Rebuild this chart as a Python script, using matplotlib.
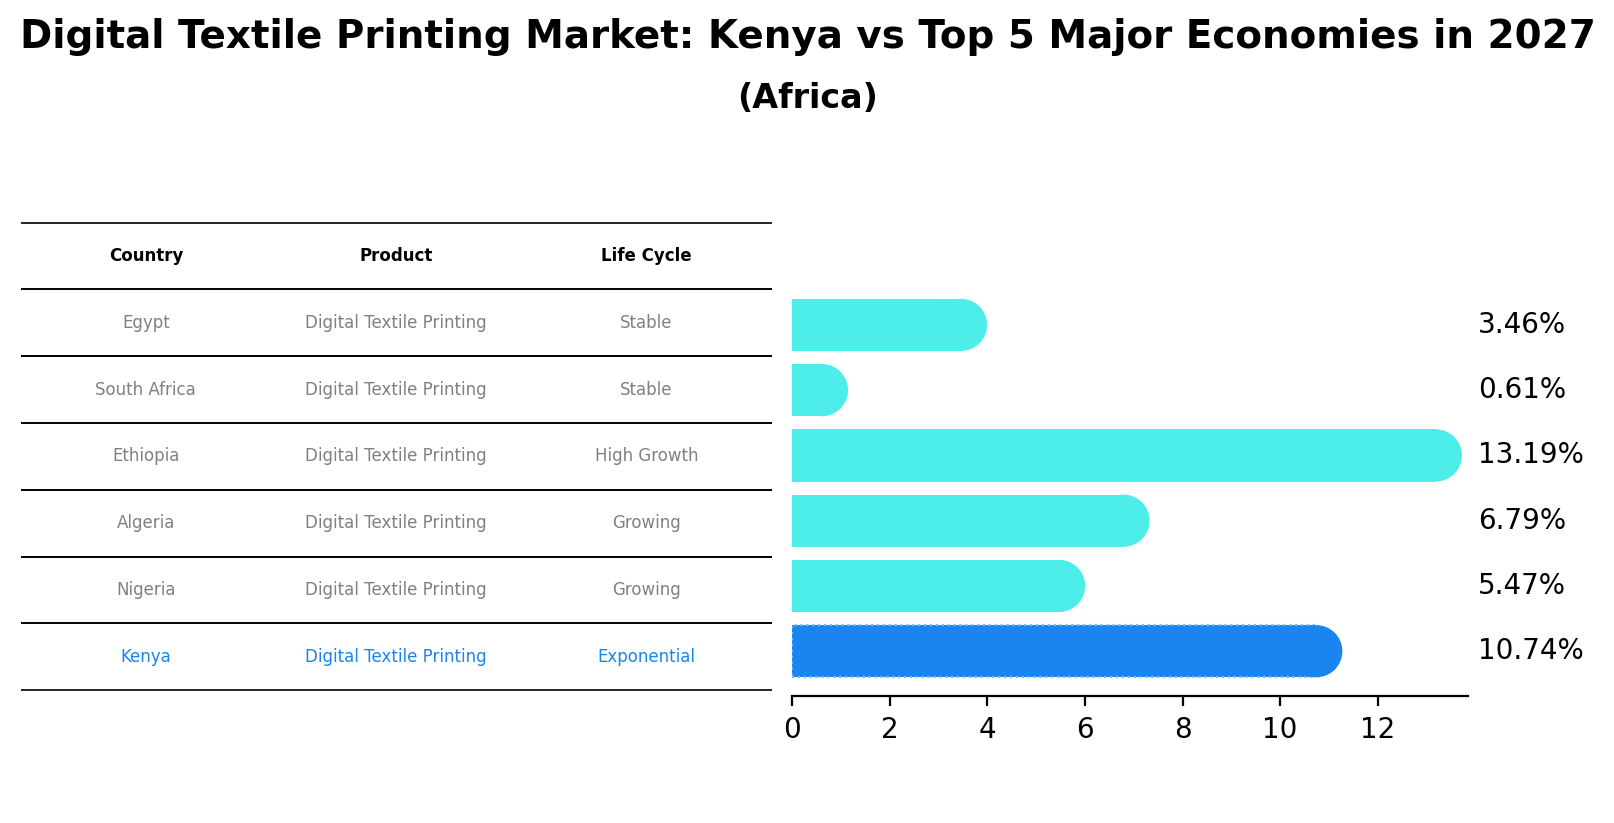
import matplotlib.pyplot as plt
from matplotlib.transforms import blended_transform_factory

# table rows, top to bottom
countries = ['Egypt', 'South Africa', 'Ethiopia', 'Algeria', 'Nigeria', 'Kenya']
products = ['Digital Textile Printing'] * 6
life_cycle = ['Stable', 'Stable', 'High Growth', 'Growing', 'Growing', 'Exponential']
growth = [3.46, 0.61, 13.19, 6.79, 5.47, 10.74]
col_labels = ['Country', 'Product', 'Life Cycle']

cyan = '#4DEEEA'
blue = '#1A85F0'

fig = plt.figure(figsize=(8.075, 4.115), dpi=200)
fig.text(0.5, 0.955, 'Digital Textile Printing Market: Kenya vs Top 5 Major Economies in 2027',
         ha='center', va='center', fontsize=14, fontweight='bold')
fig.text(0.5, 0.88, '(Africa)', ha='center', va='center', fontsize=12, fontweight='bold')

# table on the left
tax = fig.add_axes([0.0128, 0.1614, 0.465, 0.568])
tax.axis('off')
cells = [[c, p, l] for c, p, l in zip(countries, products, life_cycle)]
tbl = tax.table(cellText=cells, colLabels=col_labels, cellLoc='center',
                bbox=[0, 0, 1, 1], edges='horizontal')
tbl.auto_set_font_size(False)
for (r, c), cell in tbl.get_celld().items():
    cell.set_linewidth(0.6)
    cell.get_text().set_fontsize(6)
    if r == 0:
        cell.get_text().set_fontweight('bold')
    elif countries[r - 1] == 'Kenya':
        cell.get_text().set_color(blue)
    else:
        cell.get_text().set_color('grey')

# bars on the right
ax = fig.add_axes([0.4905, 0.154, 0.4185, 0.506])
n = len(countries)
ypos = list(range(n - 1, -1, -1))
colors = [blue if c == 'Kenya' else cyan for c in countries]
h = 0.8
for y, v, col, c in zip(ypos, growth, colors, countries):
    if c == 'Kenya':
        ax.barh(y, v, height=h, color=col, edgecolor='#7FB8F5', linestyle=':', linewidth=0.8, zorder=2)
    else:
        ax.barh(y, v, height=h, color=col, zorder=2)
ax.set_xlim(0, max(growth) * 1.05)
ax.set_ylim(-0.5 - 0.05 * (n - 0.2) + 0.1, n - 0.5 + 0.05 * (n - 0.2) - 0.1)
ax.set_ylim(-0.4 - 0.29, n - 0.6 + 0.29)

# round caps: circle marker as tall as the bar
p0 = ax.transData.transform((0, 0))
p1 = ax.transData.transform((0, h))
diam_pt = abs(p1[1] - p0[1]) * 72 / fig.dpi
ax.scatter(growth, ypos, s=diam_pt ** 2, c=colors, marker='o', linewidths=0, zorder=3)

trans = blended_transform_factory(ax.transAxes, ax.transData)
for y, v in zip(ypos, growth):
    ax.text(1.015, y, f'{v:.2f}%', transform=trans, ha='left', va='center', fontsize=10)

ax.set_yticks([])
ax.set_xticks([0, 2, 4, 6, 8, 10, 12])
ax.tick_params(axis='x', labelsize=10)
for s in ['top', 'right', 'left']:
    ax.spines[s].set_visible(False)

fig.savefig('out.png', dpi=200)
